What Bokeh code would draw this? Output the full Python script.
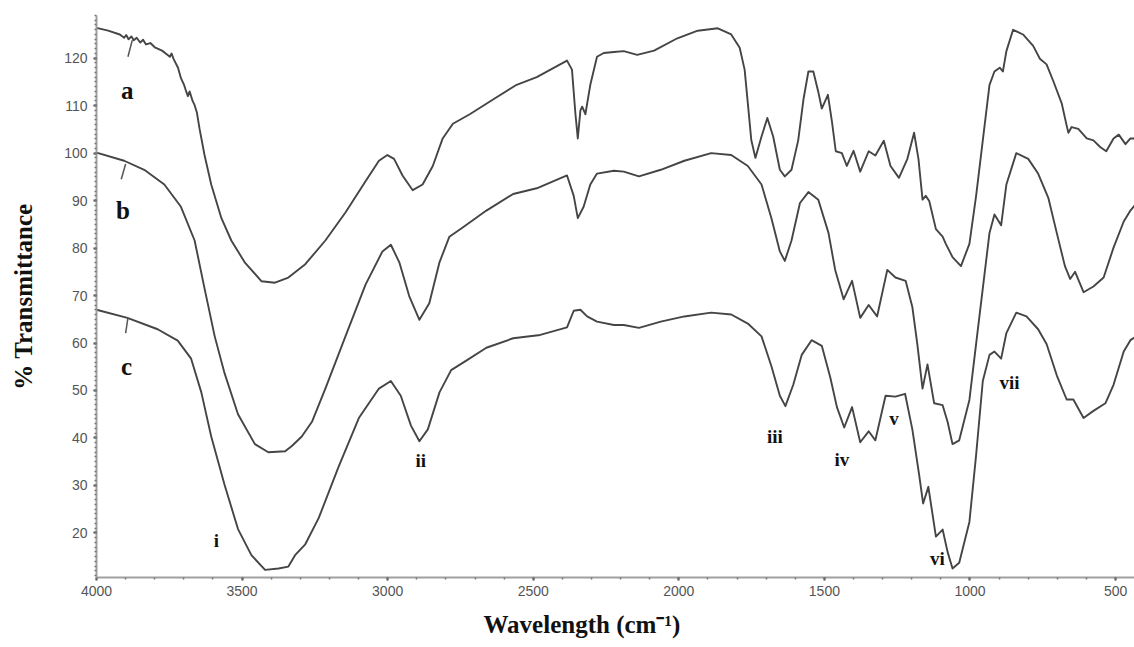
from bokeh.plotting import figure
from bokeh.models import Range1d, SingleIntervalTicker, Title
from bokeh.core.properties import value
from bokeh.embed import file_html
from bokeh.resources import INLINE

# ---------------- data ----------------
wn_a = [4000, 3960, 3920, 3905, 3898, 3890, 3880, 3872, 3862, 3850, 3840, 3830, 3815, 3800,
        3790, 3775, 3760, 3748, 3742, 3735, 3720, 3710, 3700, 3692, 3686, 3680, 3670, 3663,
        3655, 3646, 3629, 3606, 3571, 3537, 3491, 3433, 3387, 3341, 3283, 3214, 3145, 3076,
        3030, 3001, 2978, 2949, 2914, 2880, 2845, 2811, 2776, 2718, 2638, 2557, 2488, 2384,
        2367, 2355, 2347, 2338, 2332, 2321, 2304, 2281, 2258, 2223, 2189, 2143, 2085, 2005,
        1935, 1866, 1820, 1791, 1774, 1763, 1751, 1737, 1716, 1696, 1676, 1653, 1636, 1613,
        1590, 1572, 1555, 1538, 1521, 1509, 1488, 1474, 1461, 1440, 1423, 1400, 1377, 1348,
        1325, 1296, 1273, 1244, 1215, 1192, 1177, 1163, 1152, 1140, 1117, 1094, 1083, 1060,
        1031, 1002, 979, 956, 933, 916, 898, 887, 875, 852, 818, 783, 760, 737, 714, 685,
        668, 662, 651, 628, 599, 576, 553, 532, 507, 489, 466, 449, 428]
t_a = [126.4, 125.8, 125.0, 124.3, 124.9, 124.0, 124.6, 123.8, 124.3, 123.3, 123.9, 122.9, 123.2, 122.3,
       122.0, 121.6, 120.9, 120.3, 121.0, 119.8, 118.0, 115.8, 114.5, 113.0, 112.0, 113.0, 111.0, 110.1,
       108.5, 105.1, 99.6, 93.4, 86.3, 81.6, 77.0, 73.0, 72.7, 73.8, 76.6, 81.6, 87.5, 94.1,
       98.4, 99.6, 98.8, 95.3, 92.2, 93.4, 97.3, 103.1, 106.2, 108.2, 111.3, 114.4, 116.0, 119.5,
       117.6, 108.2, 103.1, 109.0, 109.8, 108.2, 114.4, 120.3, 121.1, 121.3, 121.5, 120.7, 121.6, 124.2,
       125.8, 126.3, 125.0, 122.2, 117.6, 110.5, 102.7, 99.0, 103.5, 107.4, 103.5, 96.5, 95.1, 96.5,
       102.7, 111.3, 117.2, 117.2, 112.9, 109.4, 112.3, 106.6, 100.4, 100.0, 97.3, 100.5, 96.1, 100.4,
       99.5, 102.6, 97.3, 94.8, 98.8, 104.3, 98.8, 90.2, 91.0, 89.9, 84.0, 82.4, 80.9, 78.1,
       76.2, 80.9, 91.0, 102.7, 114.4, 117.2, 118.0, 117.2, 121.5, 126.0, 125.0, 122.6, 119.9, 118.7, 115.2, 110.5,
       105.8, 104.3, 105.5, 105.1, 103.1, 102.7, 101.3, 100.4, 103.1, 103.9, 101.9, 103.1, 103.1]

wn_b = [4000, 3905, 3836, 3767, 3710, 3663, 3629, 3594, 3560, 3514, 3456, 3410, 3352, 3329,
        3295, 3260, 3214, 3145, 3076, 3018, 2989, 2960, 2926, 2891, 2857, 2822, 2788, 2741,
        2661, 2569, 2488, 2384, 2361, 2347, 2327, 2304, 2281, 2223, 2189, 2137, 2062, 1981,
        1889, 1820, 1763, 1716, 1682, 1653, 1636, 1613, 1584, 1555, 1521, 1486, 1463, 1434,
        1405, 1377, 1348, 1319, 1284, 1256, 1221, 1198, 1181, 1163, 1146, 1123, 1094, 1077,
        1060, 1037, 1002, 979, 956, 933, 916, 893, 875, 841, 800, 766, 731, 702, 674, 656,
        639, 610, 576, 541, 507, 472, 449, 428]
t_b = [100.1, 98.4, 96.5, 93.4, 88.7, 81.6, 71.5, 61.4, 53.6, 45.0, 38.7, 37.0, 37.2, 38.3,
       40.3, 43.4, 50.4, 61.4, 72.3, 79.3, 80.7, 77.0, 69.9, 64.9, 68.4, 77.0, 82.4, 84.4,
       87.9, 91.4, 92.6, 95.3, 91.0, 86.3, 88.7, 93.4, 95.7, 96.3, 96.1, 95.1, 96.5, 98.4,
       100.0, 99.6, 97.3, 93.4, 86.3, 79.3, 77.3, 81.6, 89.5, 91.8, 90.2, 83.2, 75.4, 69.2,
       73.1, 65.3, 68.0, 65.6, 75.4, 73.8, 73.1, 67.6, 59.8, 50.4, 55.5, 47.3, 46.9, 43.4,
       38.7, 39.5, 48.0, 59.8, 71.5, 83.2, 87.1, 84.8, 93.4, 100.0, 98.8, 95.7, 90.6, 83.2, 76.2, 73.5,
       75.0, 70.7, 71.9, 73.8, 80.1, 85.6, 87.9, 89.5]

wn_c = [4000, 3894, 3790, 3721, 3675, 3640, 3606, 3560, 3514, 3468, 3421, 3375, 3341, 3318,
        3283, 3237, 3168, 3099, 3030, 2989, 2955, 2920, 2891, 2862, 2822, 2782, 2730, 2661,
        2569, 2476, 2384, 2361, 2338, 2315, 2281, 2223, 2189, 2137, 2062, 1981, 1889, 1820,
        1763, 1716, 1682, 1653, 1634, 1607, 1578, 1544, 1509, 1480, 1457, 1432, 1405, 1377,
        1348, 1325, 1290, 1256, 1223, 1198, 1175, 1161, 1143, 1117, 1094, 1077, 1060, 1037,
        1002, 979, 956, 933, 916, 893, 875, 841, 806, 766, 737, 702, 668, 645, 610, 576,
        535, 507, 472, 449, 428]
t_c = [67.0, 65.3, 62.9, 60.5, 56.7, 49.6, 40.3, 30.1, 20.8, 15.3, 12.2, 12.5, 12.9, 15.3,
       17.6, 23.1, 34.0, 44.2, 50.4, 52.0, 48.9, 42.6, 39.3, 41.8, 49.6, 54.3, 56.3, 59.0,
       61.0, 61.7, 63.3, 66.8, 67.0, 65.6, 64.5, 63.8, 63.8, 63.2, 64.5, 65.6, 66.4, 66.0,
       64.1, 61.4, 55.1, 48.9, 46.7, 51.2, 57.5, 60.6, 59.4, 52.8, 46.5, 42.2, 46.5, 39.1,
       41.4, 39.5, 48.9, 48.7, 49.3, 41.8, 32.4, 26.2, 29.7, 19.2, 20.7, 16.0, 12.5, 13.7,
       22.3, 36.4, 52.0, 57.5, 58.2, 56.7, 62.1, 66.4, 65.6, 62.9, 59.8, 53.2, 48.1, 48.1, 44.2, 45.7,
       47.3, 51.2, 58.2, 60.6, 61.4]

# curve letters and peak numerals
curve_names = ["a", "b", "c"]
curve_name_x = [3894, 3909, 3897]
curve_name_y = [113.3, 87.9, 55.1]
lead_x0 = [3877, 3900, 3892]
lead_y0 = [123.8, 97.7, 65.3]
lead_x1 = [3892, 3915, 3900]
lead_y1 = [120.3, 94.5, 62.1]

peak_names = ["i", "ii", "iii", "iv", "v", "vi", "vii"]
peak_x = [3588, 2886, 1670, 1440, 1261, 1112, 864]
peak_y = [18.4, 35.2, 40.4, 35.4, 44.2, 14.5, 51.6]

# ---------------- figure ----------------
p = figure(width=1134, height=647, output_backend="svg", toolbar_location=None,
           x_range=Range1d(4000, 435), y_range=Range1d(10.6, 129.0),
           min_border_left=96, min_border_right=0, min_border_top=15, min_border_bottom=70)
p.outline_line_color = None
p.xgrid.visible = False
p.ygrid.visible = False
p.background_fill_color = "white"
p.border_fill_color = "white"

line_col = "#454545"
for xs, ys in ((wn_a, t_a), (wn_b, t_b), (wn_c, t_c)):
    p.line(xs, ys, line_color=line_col, line_width=1.9, line_join="round")

p.segment(x0=lead_x0, y0=lead_y0, x1=lead_x1, y1=lead_y1, line_color="#555555", line_width=1.5)

p.text(x=curve_name_x, y=curve_name_y, text=curve_names, text_font=value("Liberation Serif"),
       text_font_style="bold", text_font_size="25px", text_align="center",
       text_baseline="middle", text_color="#111111")
p.text(x=peak_x, y=peak_y, text=peak_names, text_font=value("Liberation Serif"),
       text_font_style="bold", text_font_size="19px", text_align="center",
       text_baseline="middle", text_color="#111111")

p.xaxis.ticker = SingleIntervalTicker(interval=500, num_minor_ticks=5)
p.yaxis.ticker = SingleIntervalTicker(interval=10, num_minor_ticks=10)

for ax in (p.xaxis[0], p.yaxis[0]):
    ax.axis_line_color = "#a0a0a0"
    ax.axis_line_width = 2
    ax.major_tick_line_color = "#444444"
    ax.major_tick_line_width = 2
    ax.major_tick_out = 3
    ax.major_tick_in = 0
    ax.minor_tick_line_color = "#777777"
    ax.minor_tick_line_width = 1.5
    ax.minor_tick_out = 2
    ax.minor_tick_in = 0
    ax.major_label_text_font = "Liberation Sans"
    ax.major_label_text_font_size = "14px"
    ax.major_label_text_color = "#555555"
    ax.axis_label_text_font = "Liberation Serif"
    ax.axis_label_text_font_style = "bold"
    ax.axis_label_text_color = "#111111"

p.xaxis.major_label_standoff = 5

xlabel = Title(text="Wavelength (cm\u207b\u00b9)", align="left", offset=387, standoff=20,
               text_font="Liberation Serif", text_font_style="bold", text_font_size="25px",
               text_line_height=0.8, text_color="#111111")
p.add_layout(xlabel, "below")

p.yaxis.axis_label = "% Transmittance"
p.yaxis.axis_label_text_font_size = "25px"
p.yaxis.axis_label_standoff = 24
p.yaxis.major_label_standoff = 6

open("out.html", "w").write(file_html(p, INLINE))
